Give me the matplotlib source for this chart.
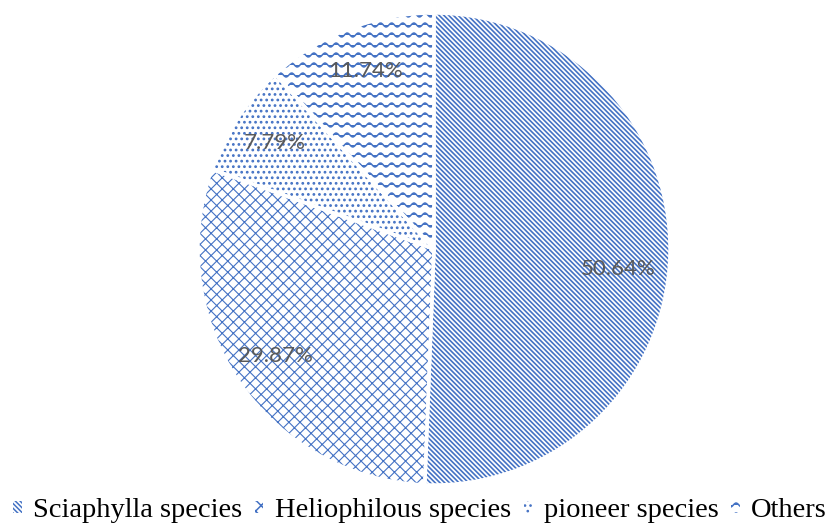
import warnings
import numpy as np
import matplotlib
matplotlib.use("Agg")
import matplotlib.pyplot as plt
from matplotlib import hatch as mhatch
from matplotlib.path import Path

# Species shade-tolerance groups and their share of the flora (%)
categories = ["Sciaphylla species", "Heliophilous species", "pioneer species", "Others"]
shares = [50.64, 29.87, 7.79, 11.74]
hatches = ["\\" * 7, "xxx", "...", "~~"]
hatch_widths = [1.2, 0.8, 1.2, 1.1]

BLUE = "#4472C4"


class WaveHatch(mhatch.HatchPatternBase):
    """Wavy horizontal lines, selected with the '~' hatch character."""

    def __init__(self, hatch, density):
        self.num_lines = int(hatch.count("~") * 5)
        self.num_pts = 91
        self.num_vertices = self.num_lines * self.num_pts

    def set_vertices_and_codes(self, vertices, codes):
        n = self.num_pts
        x = np.linspace(0.0, 1.0, n)
        rows = (np.arange(self.num_lines) + 0.5) / self.num_lines
        for i, y0 in enumerate(rows):
            seg = slice(i * n, (i + 1) * n)
            vertices[seg, 0] = x
            vertices[seg, 1] = y0 + 0.02 * np.sin(2 * np.pi * 9 * x)
            codes[seg] = Path.LINETO
            codes[i * n] = Path.MOVETO


mhatch._hatch_types.append(WaveHatch)
warnings.filterwarnings("ignore")

plt.rcParams["hatch.linewidth"] = 1.1

fig = plt.figure(figsize=(8.4, 5.25), dpi=100)
ax = fig.add_axes([198 / 840, 40 / 525, 472 / 840, 472 / 525])

total = sum(shares)
wedges, _, autotexts = ax.pie(
    shares,
    startangle=90,
    counterclock=False,
    colors=["white"] * len(shares),
    autopct=lambda p: f"{p * total / 100:.2f}%",
    pctdistance=0.81,
    wedgeprops=dict(edgecolor=BLUE, linewidth=0),
    textprops=dict(color="#595959", fontsize=16, family="Lato"),
)
for w, h, lw in zip(wedges, hatches, hatch_widths):
    w.set_hatch(h)
    if hasattr(w, "set_hatch_linewidth"):
        w.set_hatch_linewidth(lw)

# the largest slice's label sits a little below its bisector
x0, y0 = autotexts[0].get_position()
autotexts[0].set_position((x0 - 0.03, y0 - 0.07))

# white separators between slices
ax.pie(
    shares,
    startangle=90,
    counterclock=False,
    colors=["none"] * len(shares),
    wedgeprops=dict(edgecolor="white", linewidth=2.5),
)

ax.set_xlim(-1, 1)
ax.set_ylim(-1, 1)
ax.set_aspect("equal")

fig.legend(
    wedges,
    categories,
    loc="lower center",
    bbox_to_anchor=(0.5, -0.035),
    ncol=4,
    frameon=False,
    prop=dict(family="Liberation Serif", size=20.5),
    handlelength=0.3,
    handleheight=0.3,
    handletextpad=0.4,
    columnspacing=0.45,
    borderpad=0.2,
)

fig.savefig("out.png", dpi=100)
